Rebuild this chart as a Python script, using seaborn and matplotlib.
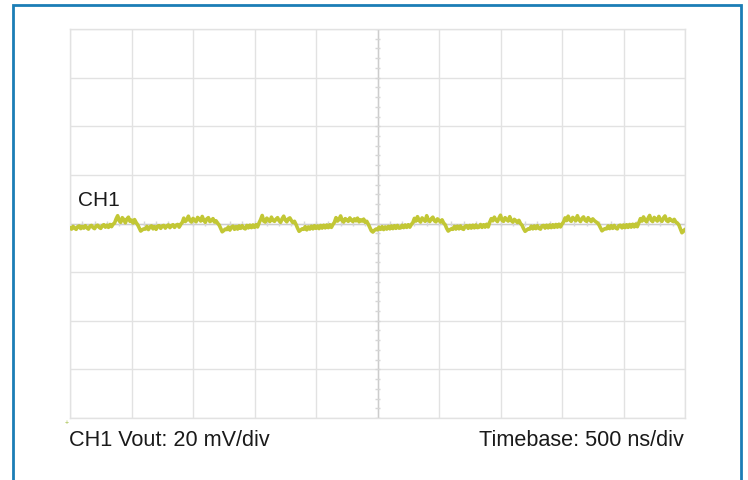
import numpy as np
import pandas as pd
import matplotlib
matplotlib.use("Agg")
import matplotlib.pyplot as plt
import seaborn as sns
from matplotlib.patches import Rectangle

# scope settings
volts_per_div = 20      # mV/div
time_per_div = 500      # ns/div
n_xdiv = 10
n_ydiv = 8

channel_label = "CH1"
scale_label = "CH1 Vout: 20 mV/div"
timebase_label = "Timebase: 500 ns/div"

# ripple trace, mV around ground (one sample every 12.5 ns)
trace_mv = [
    -1.7, -2.3, -1.2, -1.9, -2.4, -1.3, -1.0, -2.1, -1.2, -1.9, -0.9, -1.8, -2.3, -1.1, -0.8,
    -1.7, -2.1, -1.0, -0.7, -1.6, -2.0, -0.9, -0.5, -1.5, -0.7, -1.6, -0.4, -1.3, -0.3,
    0.2, 1.9, 3.2, 1.1, 0.5, 2.4, 1.6, 0.3, 1.8, 2.6, 0.9, 1.4, 0.2, 1.6, 0.4, -0.5,
    -1.8, -3.1, -2.6, -2.2,
    -2.3, -1.2, -2.5, -1.4, -1.0, -2.2, -1.3, -2.4, -1.1, -0.9, -2.0, -1.0, -0.8, -1.9,
    -1.0, -0.6, -1.7, -0.9, -0.5, -1.6, -0.7, -0.4, -1.5, -0.3,
    0.4, 2.2, 0.8, 1.5, 3.0, 1.2, 0.6, 2.1, 1.4, 0.7, 2.5, 1.8, 1.0, 2.9, 1.3, 0.5, 1.9,
    2.4, 0.8, 1.2, 2.0, 0.6, 1.1, 0.1, -0.6,
    -2.0, -3.4, -2.9, -2.3,
    -2.5, -1.4, -2.7, -1.5, -1.1, -2.4, -1.3, -2.3, -1.0, -2.0, -0.9, -1.9, -2.2, -0.8,
    -1.8, -0.7, -1.7, -0.6, -1.6, -0.5, -1.4,
    0.3, 1.6, 3.3, 1.0, 0.6, 2.2, 1.5, 0.8, 2.6, 1.3, 0.9, 1.8, 2.4, 1.1, 0.5, 2.0, 3.0,
    1.4, 0.7, 1.9, 2.3, 1.2, 0.4, 0.9, -0.4,
    -1.9, -3.2, -2.7, -2.2,
    -2.4, -1.3, -2.6, -1.4, -2.3, -1.1, -2.2, -0.9, -2.0, -1.0, -2.1, -0.8, -1.9, -0.7,
    -1.8, -0.6, -1.7, -0.5, -1.6, -0.4,
    0.5, 2.4, 1.0, 1.7, 3.1, 1.2, 0.6, 2.0, 1.5, 0.9, 2.3, 1.4, 0.8, 1.9, 1.1, 2.2, 0.7,
    1.5, 1.0, 1.8, 0.5, 0.9, -0.3,
    -1.6, -3.0, -3.5, -2.8, -2.3,
    -2.6, -1.5, -2.4, -1.3, -2.5, -1.4, -2.3, -1.2, -2.2, -1.0, -2.1, -0.9, -2.0, -0.8,
    -1.9, -1.8, -0.7, -1.7, -0.6, -1.6, -0.5, -1.5, -0.4,
    0.4, 2.1, 1.0, 2.8, 1.3, 0.6, 2.3, 1.6, 0.9, 3.2, 1.4, 0.8, 2.0, 2.6, 1.1, 0.7, 1.9,
    1.3, 0.6, 1.5, 0.2, -0.5,
    -2.0, -3.1, -2.6, -2.2,
    -2.4, -1.2, -2.3, -1.1, -2.2, -1.0, -2.1, -2.4, -1.1, -0.9, -2.0, -0.8, -1.9, -0.7,
    -1.8, -0.6, -1.7, -1.5, -0.4, -1.6, -0.5, -1.5, -0.3, -1.4,
    0.5, 2.0, 1.1, 2.6, 1.5, 0.8, 2.2, 3.4, 1.3, 0.9, 2.4, 1.6, 1.0, 2.8, 1.2, 0.6, 1.7,
    1.1, 0.4, 1.3, 0.0, -0.7,
    -2.1, -3.2, -2.7, -2.2,
    -2.3, -1.1, -2.2, -1.0, -2.1, -0.9, -2.0, -2.3, -1.0, -0.8, -1.9, -0.7, -1.8, -0.6,
    -1.7, -0.5, -1.6, -0.4, -1.5, -0.3, -1.4, -0.2,
    0.6, 2.3, 1.2, 3.0, 1.5, 0.9, 2.5, 1.8, 1.1, 3.2, 1.6, 0.8, 2.1, 2.7, 1.3, 0.9, 2.4,
    1.5, 0.8, 1.9, 1.2, 0.7, 0.3, -0.5,
    -1.8, -3.0, -2.5, -2.1,
    -2.2, -1.0, -2.1, -0.9, -2.0, -0.8, -1.9, -2.2, -0.9, -0.7, -1.8, -0.6, -1.7, -0.5,
    -1.6, -0.4, -1.5, -0.3, -1.4, -0.2, -1.3,
    0.4, 2.0, 1.0, 2.7, 1.4, 0.7, 2.2, 3.3, 1.3, 0.8, 2.5, 1.7, 1.0, 2.9, 1.5, 0.9, 2.3,
    3.1, 1.2, 0.8, 2.0, 1.4, 0.9, 1.7, 0.6, 0.2, -0.6,
    -2.2, -3.8, -3.2, -2.4,
]

t_max = n_xdiv * time_per_div
v_max = n_ydiv / 2 * volts_per_div
df = pd.DataFrame({"time_ns": np.linspace(0, t_max, len(trace_mv)), "v_mv": trace_mv})

sns.set_style("white")
plt.rcParams['font.family'] = ['Liberation Sans', 'DejaVu Sans']

fig = plt.figure(figsize=(7.48, 4.80), dpi=100)
ax = fig.add_axes([70 / 748, 1 - 418 / 480, 615 / 748, 389 / 480])

grid_col = '#e2e2e2'
xt = np.arange(0, t_max + 1, time_per_div)
yt = np.arange(-v_max, v_max + 1, volts_per_div)
ax.vlines(xt, -v_max, v_max, color=grid_col, lw=1.0, zorder=1)
ax.hlines(yt, 0, t_max, color=grid_col, lw=1.0, zorder=1)

# center crosshair with minor ticks
ax.axvline(t_max / 2, color='#cccccc', lw=1.0, zorder=1)
ax.axhline(0, color='#cccccc', lw=1.0, zorder=1)
minor_v = np.arange(-v_max, v_max + 0.1, volts_per_div / 5)
minor_t = np.arange(0, t_max + 1, time_per_div / 5)
ax.hlines(minor_v, t_max / 2 - 18, t_max / 2 + 18, color='#d6d6d6', lw=1.0, zorder=1)
ax.vlines(minor_t, -0.9, 0.9, color='#d6d6d6', lw=1.0, zorder=1)

sns.lineplot(data=df, x="time_ns", y="v_mv", ax=ax, color='#c2c735', lw=2.6, zorder=3)

ax.set_xlim(0, t_max)
ax.set_ylim(-v_max, v_max)
ax.set_xticks([])
ax.set_yticks([])
ax.set_xlabel("")
ax.set_ylabel("")
for s in ax.spines.values():
    s.set_color(grid_col)
    s.set_linewidth(1.0)

ax.text(0.013, 0.5 + 13 / 389, channel_label, transform=ax.transAxes,
        fontsize=15, color='#1a1a1a', ha='left', va='bottom')

fig.text(69 / 748, 1 - 446 / 480, scale_label, fontsize=15.6, color='#1a1a1a',
         ha='left', va='baseline')
fig.text(684 / 748, 1 - 446 / 480, timebase_label, fontsize=15.6, color='#1a1a1a',
         ha='right', va='baseline')

# small trigger marker at lower left
fig.text(67 / 748, 1 - 424 / 480, "+", fontsize=5, color='#9dbb3a', ha='center', va='center')

# blue frame around the figure
fig.patches.append(Rectangle((13 / 748, -0.05), 728 / 748, 1.05 - 5 / 480,
                             transform=fig.transFigure, fill=False,
                             edgecolor='#1b7db6', lw=2.0))

fig.savefig("out.png", dpi=100)
